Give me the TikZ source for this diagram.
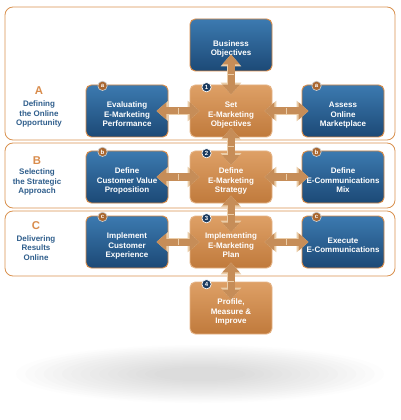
\documentclass[tikz,border=0pt]{standalone}
\usepackage{fontspec}
\setmainfont{Liberation Sans}
\usetikzlibrary{arrows.meta,decorations.markings}
\definecolor{panelline}{HTML}{D99250}
\definecolor{bluetop}{HTML}{3C7AB0}
\definecolor{bluebot}{HTML}{1C4976}
\definecolor{orgtop}{HTML}{DEA066}
\definecolor{orgbot}{HTML}{C07A3C}
\definecolor{boxline}{HTML}{D88A45}
\definecolor{arrowfill}{HTML}{C68D58}
\definecolor{arrowedge}{HTML}{EBCDA8}
\definecolor{labletter}{HTML}{D98C4C}
\definecolor{labtext}{HTML}{2F5E8C}
\definecolor{numfill}{HTML}{1B3A5E}
\definecolor{letfill}{HTML}{A9662F}
\tikzset{
  panel/.style={draw=panelline, line width=0.6pt, fill=white, rounded corners=6pt},
  bluebox/.style={draw=boxline, line width=0.7pt, rounded corners=4pt, top color=bluetop, bottom color=bluebot,
    minimum width=61.5pt, minimum height=39pt, text=white, align=center, inner sep=1pt,
    font=\fontsize{6}{7.1}\selectfont\bfseries, text height=25pt, text depth=1.3pt},
  orgbox/.style={bluebox, draw=orgtop!80!white, top color=orgtop, bottom color=orgbot},
  twoline/.style={text height=17.5pt},
  numdot/.style={circle, fill=numfill, draw=white, line width=0.5pt, minimum size=7pt, inner sep=0pt,
    text=white, font=\fontsize{4.5}{5}\selectfont\bfseries},
  letdot/.style={numdot, fill=letfill, draw=gray!40},
  steplet/.style={text=labletter, font=\fontsize{8.5}{9}\selectfont\bfseries},
  steptext/.style={text=labtext, align=center, font=\fontsize{6}{7.1}\selectfont\bfseries},
  blockarr/.style={draw=arrowfill, line width=5.25pt,
    {Triangle[width=12.75pt,length=7.5pt]}-{Triangle[width=12.75pt,length=7.5pt]},
    preaction={draw=arrowedge, line width=6.6pt, {Triangle[width=15pt,length=9pt]}-{Triangle[width=15pt,length=9pt]}},
    postaction={decorate, decoration={markings, mark=at position 0.5 with {\draw[-, arrowedge, line width=0.5pt] (0,-2.6pt) -- (0,2.6pt);}}}}
}
\begin{document}
\begin{tikzpicture}[x=0.75pt,y=0.75pt,yscale=-1,xscale=1]
\useasboundingbox (0,0) rectangle (400,420);

%Shadow under the diagram
\foreach \s in {1.00,0.95,...,0.2}
  \fill[gray, opacity=0.02] (200,374) ellipse ({184*\s} and {29*\s});

%Panels
\draw[panel] (5,7) rectangle (395,140);
\draw[panel] (5,143) rectangle (395,208);
\draw[panel] (5,211) rectangle (395,276);

% Panel labels
\node[steplet] (labA) at (39,91) {A};
\node[steptext] (txtA) at (39,114) {Defining\\the Online\\Opportunity};
\node[steplet] (labB) at (37,161) {B};
\node[steptext] (txtB) at (37,182) {Selecting\\the Strategic\\Approach};
\node[steplet] (labC) at (36,226) {C};
\node[steptext] (txtC) at (36,248) {Delivering\\Results\\Online};

% Boxes
\node[bluebox, twoline] (bizobj) at (231,45) {Business\\Objectives};
\node[orgbox] (setobj) at (231,111) {Set\\E-Marketing\\Objectives};
\node[bluebox] (evalperf) at (127,111) {Evaluating\\E-Marketing\\Performance};
\node[bluebox] (assessmkt) at (343,111) {Assess\\Online\\Marketplace};
\node[orgbox] (defstrat) at (231,177) {Define\\E-Marketing\\Strategy};
\node[bluebox] (defcvp) at (127,177) {Define\\Customer Value\\Proposition};
\node[bluebox] (defcomms) at (343,177) {Define\\E-Communications\\Mix};
\node[orgbox] (implplan) at (231,242) {Implementing\\E-Marketing\\Plan};
\node[bluebox] (implcx) at (127,242) {Implement\\Customer\\Experience};
\node[bluebox, twoline] (execcomms) at (343,242) {Execute\\E-Communications};
\node[orgbox] (profile) at (231,308) {Profile,\\Measure \&\\Improve};

% Step numbers and letters (yshift runs downwards here)
\node[numdot] (num1) at ([xshift=12.75pt,yshift=2pt]setobj.north west) {1};
\node[numdot] (num2) at ([xshift=12.75pt,yshift=2pt]defstrat.north west) {2};
\node[numdot] (num3) at ([xshift=12.75pt,yshift=2pt]implplan.north west) {3};
\node[numdot] (num4) at ([xshift=12.75pt,yshift=2pt]profile.north west) {4};
\node[letdot] (letA1) at ([xshift=12.75pt,yshift=1pt]evalperf.north west) {a};
\node[letdot] (letA2) at ([xshift=11.25pt,yshift=1pt]assessmkt.north west) {a};
\node[letdot] (letB1) at ([xshift=12.75pt,yshift=1pt]defcvp.north west) {b};
\node[letdot] (letB2) at ([xshift=11.25pt,yshift=1pt]defcomms.north west) {b};
\node[letdot] (letC1) at ([xshift=12.75pt,yshift=1pt]implcx.north west) {c};
\node[letdot] (letC2) at ([xshift=11.25pt,yshift=1pt]execcomms.north west) {c};

% Vertical arrows
\draw[blockarr] ([yshift=-12.75pt]bizobj.south) -- ([yshift=7.5pt]setobj.north);
\draw[blockarr] ([yshift=-7pt]setobj.south) -- ([yshift=11pt]defstrat.north);
\draw[blockarr] ([yshift=-6pt]defstrat.south) -- ([yshift=12.75pt]implplan.north);
\draw[blockarr] ([yshift=-4.5pt]implplan.south) -- ([yshift=13.5pt]profile.north);

% Horizontal arrows
\draw[blockarr] ([xshift=-9pt]evalperf.east) -- ([xshift=7.5pt]setobj.west);
\draw[blockarr] ([xshift=-6pt]setobj.east) -- ([xshift=5.25pt]assessmkt.west);
\draw[blockarr] ([xshift=-9pt]defcvp.east) -- ([xshift=7.5pt]defstrat.west);
\draw[blockarr] ([xshift=-6pt]defstrat.east) -- ([xshift=5.25pt]defcomms.west);
\draw[blockarr] ([xshift=-9pt]implcx.east) -- ([xshift=7.5pt]implplan.west);
\draw[blockarr] ([xshift=-6pt]implplan.east) -- ([xshift=5.25pt]execcomms.west);
\end{tikzpicture}
\end{document}
